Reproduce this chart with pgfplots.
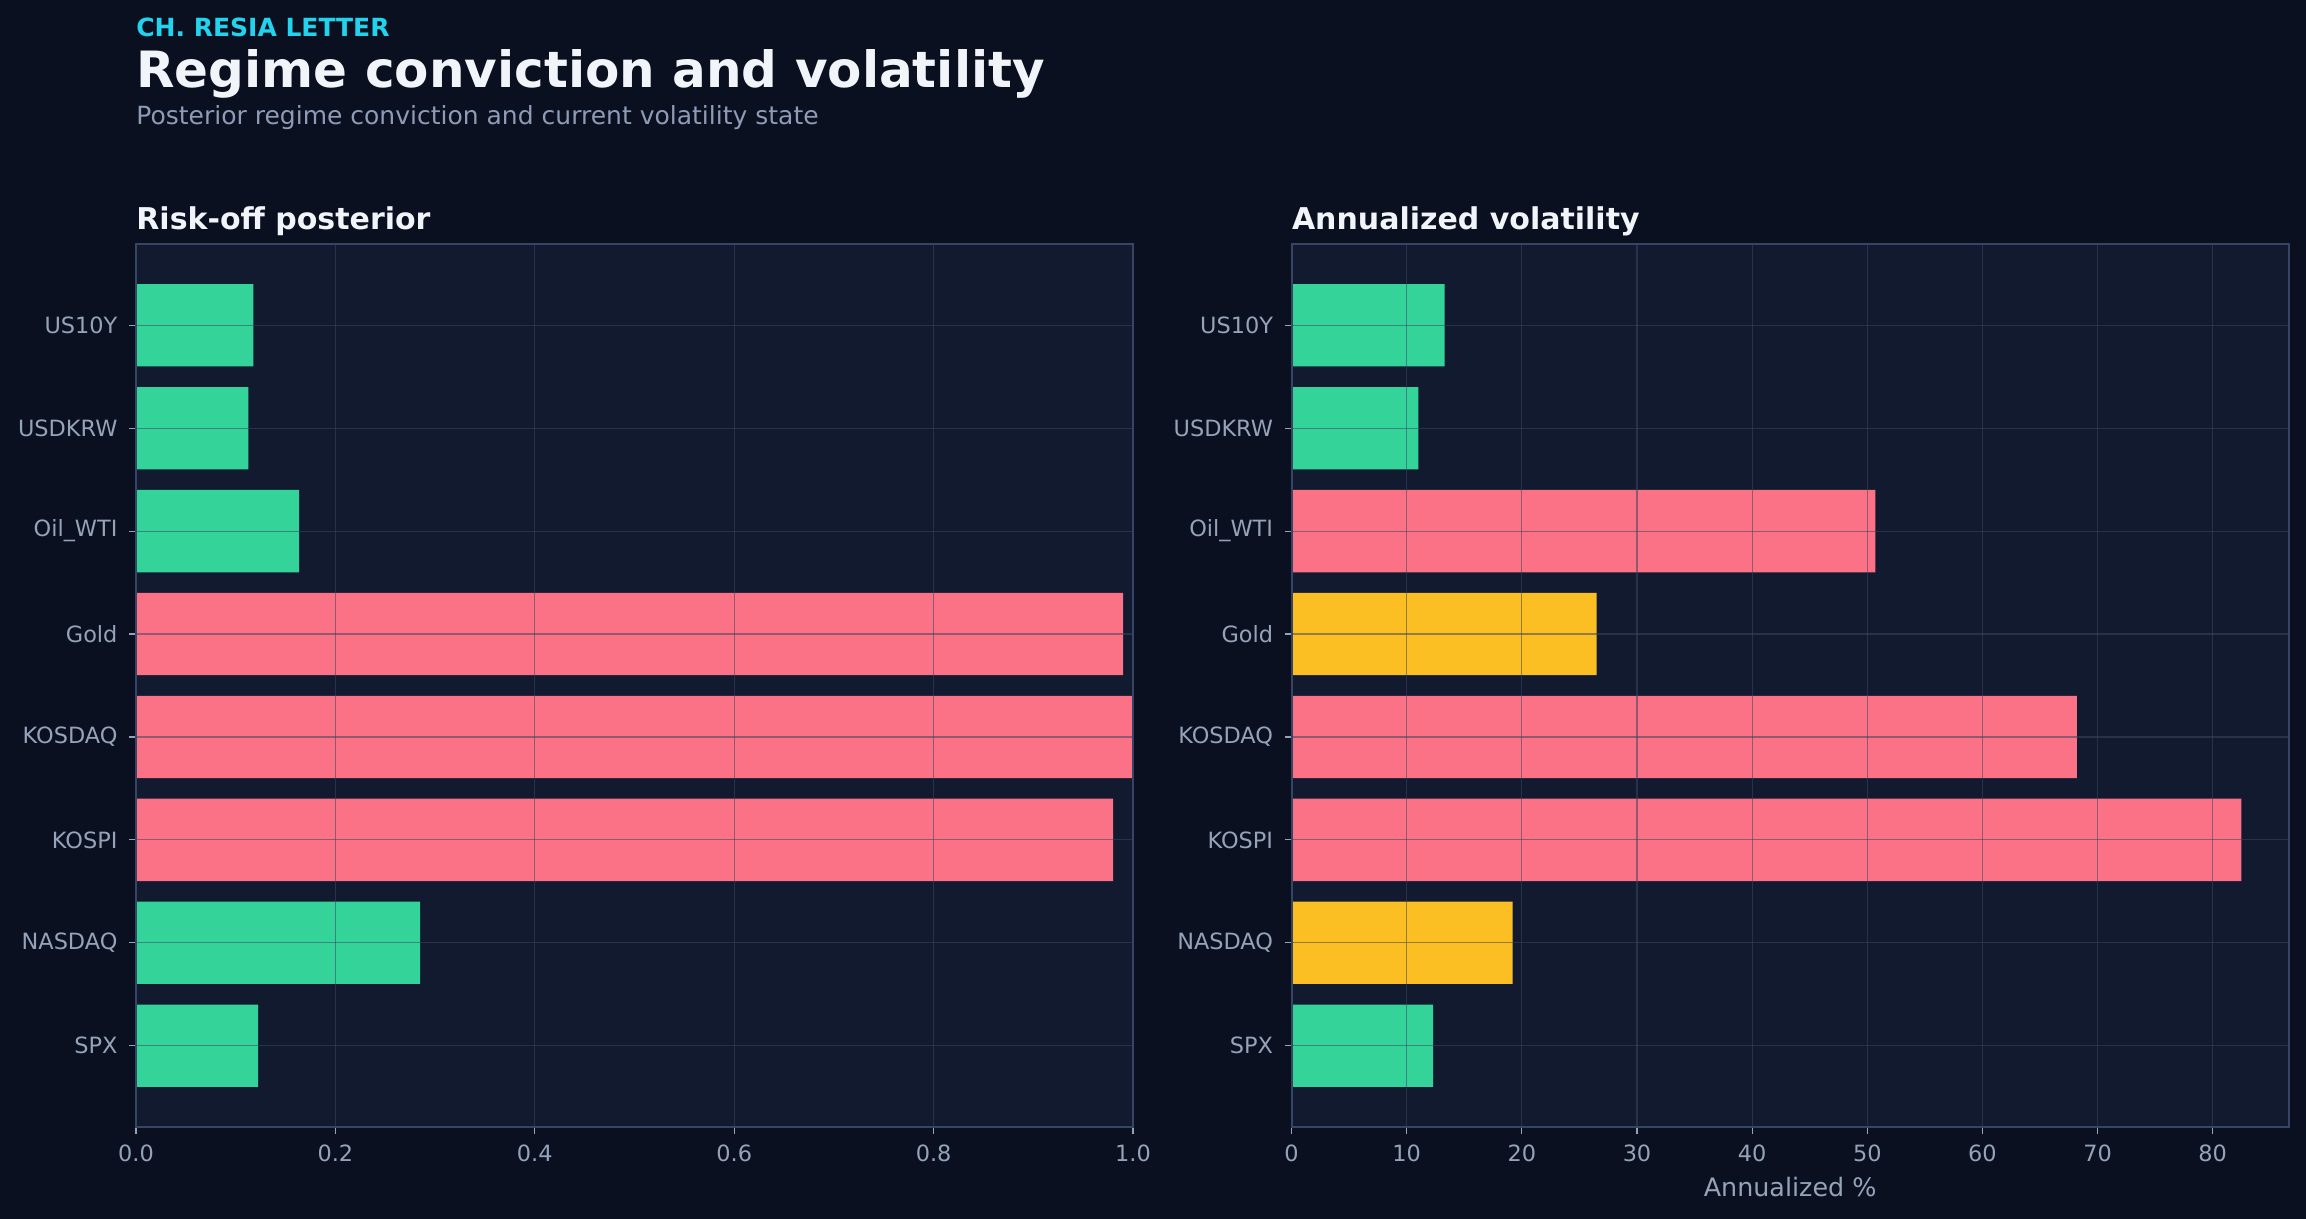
\documentclass[border=0pt]{standalone}
\usepackage{fontspec}
\setmainfont{DejaVu Sans}
\usepackage{pgfplots}
\pgfplotsset{compat=1.18}
\definecolor{figbg}{HTML}{0B1020}
\definecolor{axbg}{HTML}{121A2F}
\definecolor{spine}{HTML}{364566}
\definecolor{gridc}{HTML}{3A4760}
\definecolor{tlabel}{HTML}{94A3B8}
\definecolor{titlec}{HTML}{F1F5F9}
\definecolor{kicker}{HTML}{22D3EE}
\definecolor{subc}{HTML}{8E9BB6}
\definecolor{cgreen}{HTML}{34D399}
\definecolor{cred}{HTML}{FB7185}
\definecolor{cyellow}{HTML}{FBBF24}
\pgfplotsset{panel/.style={
  scale only axis, width=498.5pt, height=441.5pt,
  anchor=south west,
  ymin=-0.79, ymax=7.79, xmin=0,
  ytick={0,...,7},
  yticklabels={SPX,NASDAQ,KOSPI,KOSDAQ,Gold,Oil\_WTI,USDKRW,US10Y},
  axis background/.style={fill=axbg},
  axis line style={spine, line width=1pt},
  xmajorgrids, ymajorgrids,
  major grid style={gridc, opacity=0.55, line width=0.6pt},
  tick align=outside, tick style={tlabel, line width=0.6pt},
  major tick length=3.5pt,
  xtick pos=lower, ytick pos=left,
  tick label style={font=\fontsize{11.2}{13}\selectfont, text=tlabel},
  /pgf/number format/assume math mode=true,
  axis on top,
  xticklabel style={anchor=base, inner sep=0pt, yshift=-14pt},
  yticklabel style={anchor=east, inner sep=0pt, xshift=-5.6pt},
}}
\begin{document}
\begin{tikzpicture}
\fill[figbg] (-68pt,-46pt) rectangle (1085pt,563.5pt);
\begin{axis}[panel, at={(0pt,0pt)}, xmax=1.0,
  xtick={0,0.2,0.4,0.6,0.8,1.0},
  xticklabel={\pgfmathprintnumber[fixed,fixed zerofill,precision=1]{\tick}}]
\addplot[xbar, bar width=0.8, bar shift=0pt, fill=cgreen, draw=none]
  coordinates {(0.1224,0) (0.285,1) (0.1635,5) (0.1127,6) (0.1177,7)};
\addplot[xbar, bar width=0.8, bar shift=0pt, fill=cred, draw=none]
  coordinates {(0.980,2) (1.0,3) (0.990,4)};
\end{axis}
\begin{axis}[panel, at={(577.8pt,0pt)}, xmax=86.6,
  xtick={0,10,20,30,40,50,60,70,80},
  xlabel={Annualized \%},
  xlabel style={at={(axis description cs:0.5,0)}, anchor=base, yshift=-34.85pt,
    inner sep=0pt, font=\fontsize{12.7}{15}\selectfont, text=tlabel}]
\addplot[xbar, bar width=0.8, bar shift=0pt, fill=cgreen, draw=none]
  coordinates {(12.3,0) (11.0,6) (13.3,7)};
\addplot[xbar, bar width=0.8, bar shift=0pt, fill=cred, draw=none]
  coordinates {(82.5,2) (68.2,3) (50.7,5)};
\addplot[xbar, bar width=0.8, bar shift=0pt, fill=cyellow, draw=none]
  coordinates {(19.2,1) (26.5,4)};
\end{axis}
\node[anchor=base west, inner sep=0pt, text=kicker, font=\fontsize{12.5}{15}\selectfont\bfseries] at (0pt,545.15pt) {CH. RESIA LETTER};
\node[anchor=base west, inner sep=0pt, text=titlec, font=\fontsize{25}{30}\selectfont\bfseries] at (0pt,519.85pt) {Regime conviction and volatility};
\node[anchor=base west, inner sep=0pt, text=subc, font=\fontsize{12.5}{15}\selectfont] at (0pt,501pt) {Posterior regime conviction and current volatility state};
\node[anchor=base west, inner sep=0pt, text=titlec, font=\fontsize{15}{18}\selectfont\bfseries] at (0pt,448.5pt) {Risk-off posterior};
\node[anchor=base west, inner sep=0pt, text=titlec, font=\fontsize{15}{18}\selectfont\bfseries] at (577.8pt,448.5pt) {Annualized volatility};
\end{tikzpicture}
\end{document}
